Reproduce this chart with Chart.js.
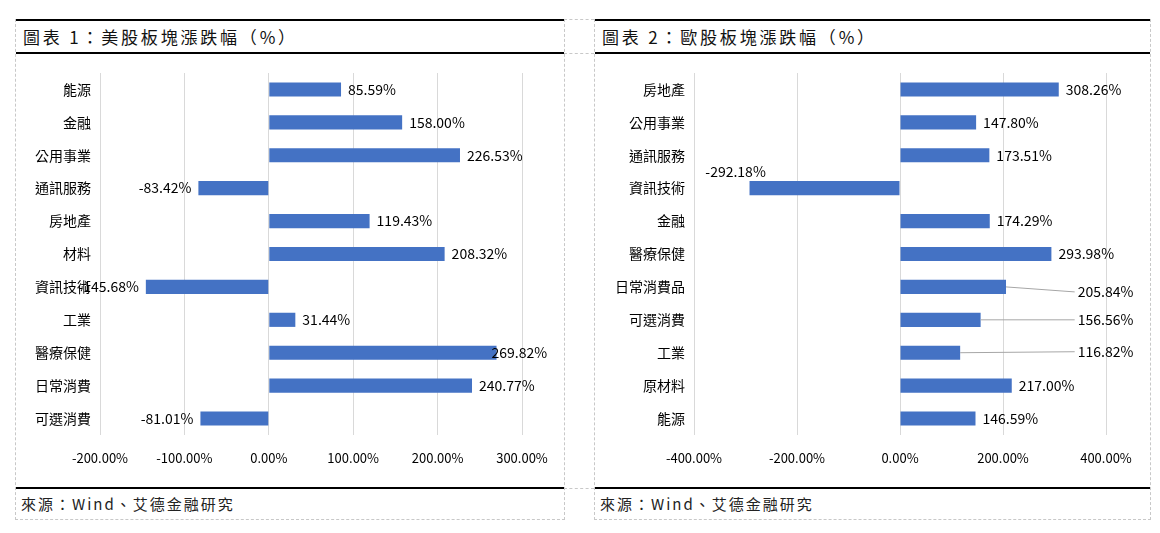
<!DOCTYPE html>
<html>
<head>
<meta charset="utf-8">
<script src="https://cdn.jsdelivr.net/npm/chart.js@4.4.1/dist/chart.umd.min.js"></script>
<style>
  body { margin: 0; background: #fff; font-family: "Noto Sans CJK TC", sans-serif; }
  .panel { position: absolute; top: 19px; height: 501px; border-left: 1px dashed #c8c8c8; border-right: 1px dashed #c8c8c8; border-bottom: 1px dashed #c8c8c8; box-sizing: border-box; }
  .title { position: absolute; left: 0; right: 0; top: 0; height: 35px; border-top: 2px solid #000; border-bottom: 2px solid #000; box-sizing: border-box; font-size: 17px; letter-spacing: 2.8px; line-height: 31px; padding-left: 7px; color: #111; }
  .foot { position: absolute; left: 0; right: 0; top: 468px; height: 33px; border-top: 2px solid #000; box-sizing: border-box; font-size: 15px; letter-spacing: 2px; line-height: 30px; padding-left: 5px; color: #222; }
  canvas { position: absolute; left: 0; top: 35px; }
  .gap { position: absolute; left: 564px; width: 30px; border-top: 1px dashed #c8c8c8; }
</style>
</head>
<body>
<div class="gap" style="top:19px"></div>
<div class="gap" style="top:53px"></div>
<div class="gap" style="top:488px"></div>

<div class="panel" style="left:15px; width:550px;">
  <div class="title">圖表 1：美股板塊漲跌幅（%）</div>
  <canvas id="usChart" width="549" height="433"></canvas>
  <div class="foot">來源：Wind、艾德金融研究</div>
</div>

<div class="panel" style="left:594px; width:557px;">
  <div class="title">圖表 2：歐股板塊漲跌幅（%）</div>
  <canvas id="euChart" width="556" height="433"></canvas>
  <div class="foot">來源：Wind、艾德金融研究</div>
</div>

<script>
const usSectors = ['能源', '金融', '公用事業', '通訊服務', '房地產', '材料', '資訊技術', '工業', '醫療保健', '日常消費', '可選消費'];
const usChange = [85.59, 158.00, 226.53, -83.42, 119.43, 208.32, -145.68, 31.44, 269.82, 240.77, -81.01];

const euSectors = ['房地產', '公用事業', '通訊服務', '資訊技術', '金融', '醫療保健', '日常消費品', '可選消費', '工業', '原材料', '能源'];
const euChange = [308.26, 147.80, 173.51, -292.18, 174.29, 293.98, 205.84, 156.56, 116.82, 217.00, 146.59];

const usTicks = { min: -200, max: 300, step: 100 };
const euTicks = { min: -400, max: 400, step: 200 };

const barColor = '#4472C4';
const labelFont = '14px "Noto Sans CJK TC"';

// draws value labels next to the bar ends, with a few moved ones
const valueLabels = {
  id: 'valueLabels',
  afterDatasetsDraw(chart, args, opts) {
    const ctx = chart.ctx;
    const meta = chart.getDatasetMeta(0);
    const values = chart.data.datasets[0].data;
    const moved = opts.moved || {};
    ctx.save();
    ctx.font = labelFont;
    ctx.fillStyle = '#000';
    ctx.textBaseline = 'middle';
    meta.data.forEach((bar, i) => {
      const v = values[i];
      const text = v.toFixed(2) + '%';
      const m = moved[i];
      let x, y = bar.y, align;
      if (m && m.at !== undefined) {
        x = chart.scales.x.getPixelForValue(m.at);
        y = bar.y + (m.dy || 0);
        align = 'left';
        ctx.strokeStyle = '#a6a6a6';
        ctx.lineWidth = 1;
        ctx.beginPath();
        ctx.moveTo(bar.x, bar.y);
        ctx.lineTo(x - 3, y);
        ctx.stroke();
      } else if (m) {
        x = bar.x + m.dx;
        y = bar.y + (m.dy || 0);
        align = m.align || 'left';
      } else if (v >= 0) {
        x = bar.x + 7;
        align = 'left';
      } else {
        x = bar.x - 7;
        align = 'right';
      }
      ctx.textAlign = align;
      ctx.fillText(text, x, y);
    });
    ctx.restore();
  }
};

function createSectorChart(id, labels, values, ticks, axisWidth, rightPad, moved) {
  const ctx = document.getElementById(id).getContext('2d');
  return new Chart(ctx, {
    type: 'bar',
    data: {
      labels: labels,
      datasets: [{
        data: values,
        backgroundColor: barColor,
        barPercentage: 0.43,
        categoryPercentage: 1.0
      }]
    },
    plugins: [valueLabels],
    options: {
      indexAxis: 'y',
      responsive: false,
      animation: false,
      layout: { padding: { top: 19, right: rightPad, left: 0, bottom: 0 } },
      plugins: {
        legend: { display: false },
        tooltip: { enabled: false },
        valueLabels: { moved: moved }
      },
      scales: {
        x: {
          min: ticks.min,
          max: ticks.max,
          afterFit: (scale) => { scale.height = 52; },
          grid: { color: '#d9d9d9', drawTicks: false },
          border: { display: false },
          ticks: {
            stepSize: ticks.step,
            padding: 15,
            color: '#000',
            font: { family: 'Noto Sans CJK TC', size: 13 },
            callback: (v) => Number(v).toFixed(2) + '%'
          }
        },
        y: {
          afterFit: (scale) => { scale.width = axisWidth; },
          grid: { display: false, drawTicks: false },
          border: { display: false },
          ticks: {
            padding: 9,
            color: '#000',
            font: { family: 'Noto Sans CJK TC', size: 14 }
          }
        }
      }
    }
  });
}

createSectorChart('usChart', usSectors, usChange, usTicks, 84, 43, { 8: { dx: -5 } });
createSectorChart('euChart', euSectors, euChange, euTicks, 99, 45, {
  3: { dx: -14, dy: -16, align: 'center' },
  6: { at: 345, dy: 5 },
  7: { at: 345, dy: 0 },
  8: { at: 345, dy: -1 }
});
</script>
</body>
</html>
